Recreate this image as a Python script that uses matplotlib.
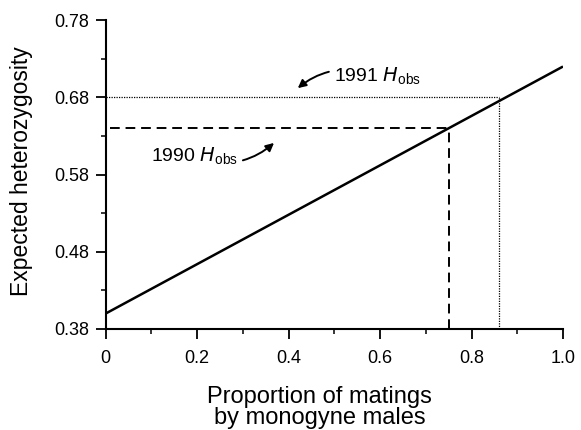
import matplotlib
matplotlib.use("Agg")
import matplotlib.pyplot as plt
from matplotlib.ticker import MultipleLocator, FixedLocator

plt.rcParams.update({"font.family": ["Liberation Sans", "DejaVu Sans"]})
plt.rcParams.update({"font.size": 13})

# expected heterozygosity vs proportion of matings by monogyne males
prop = [0.0, 1.0]
het = [0.40, 0.72]

# observed heterozygosity, and where each meets the line
h_1990 = 0.64
p_1990 = 0.75
h_1991 = 0.68
p_1991 = 0.86

xticks = [0, 0.2, 0.4, 0.6, 0.8, 1.0]
xticklabels = ["0", "0.2", "0.4", "0.6", "0.8", "1.0"]
yticks = [0.38, 0.48, 0.58, 0.68, 0.78]
yminor = [0.43, 0.53, 0.63, 0.73]

fig = plt.figure(figsize=(5.81, 4.30), dpi=100)
ax = fig.add_axes([0.182, 0.235, 0.787, 0.718])

ax.plot(prop, het, color="black", linewidth=1.8, solid_capstyle="butt")

ax.plot([0.01, p_1990], [h_1990, h_1990], color="black", linewidth=1.4,
        linestyle=(0, (5, 3)))
ax.plot([p_1990, p_1990], [0.38, h_1990], color="black", linewidth=1.4,
        linestyle=(0, (5, 3)))
ax.plot([0, p_1991], [h_1991, h_1991], color="black", linewidth=0.9,
        linestyle=(0, (1, 1)))
ax.plot([p_1991, p_1991], [0.38, h_1991], color="black", linewidth=0.9,
        linestyle=(0, (1, 1)))

ax.annotate("1991 $\\mathit{H}_{\\mathregular{obs}}$", xy=(0.42, 0.692),
            xytext=(0.50, 0.707), fontsize=14, va="center", ha="left",
            arrowprops=dict(arrowstyle="-|>", color="black", lw=1.4,
                            shrinkA=2, shrinkB=0, mutation_scale=12,
                            connectionstyle="arc3,rad=0.3"))
ax.annotate("1990 $\\mathit{H}_{\\mathregular{obs}}$", xy=(0.368, 0.621),
            xytext=(0.288, 0.603), fontsize=14, va="center", ha="right",
            arrowprops=dict(arrowstyle="-|>", color="black", lw=1.4,
                            shrinkA=2, shrinkB=0, mutation_scale=12,
                            connectionstyle="arc3,rad=0.3"))

ax.set_xlim(0, 1.0)
ax.set_ylim(0.38, 0.78)
ax.set_xticks(xticks)
ax.set_xticklabels(xticklabels)
ax.set_yticks(yticks)
ax.xaxis.set_minor_locator(MultipleLocator(0.1))
ax.yaxis.set_minor_locator(FixedLocator(yminor))

for side in ["top", "right"]:
    ax.spines[side].set_visible(False)
for side in ["left", "bottom"]:
    ax.spines[side].set_linewidth(1.5)

ax.tick_params(which="major", direction="out", length=7, width=1.3, pad=5)
ax.tick_params(which="minor", direction="out", length=3.5, width=1.1)
ax.tick_params(axis="x", which="major", pad=8)

ax.set_ylabel("Expected heterozygosity", fontsize=16.5)
ax.yaxis.set_label_coords(-0.158, 0.511)
ax.set_xlabel("Proportion of matings\nby monogyne males", fontsize=17,
              linespacing=0.95)
ax.xaxis.set_label_coords(0.468, -0.184)

fig.savefig("out.png", dpi=100)
